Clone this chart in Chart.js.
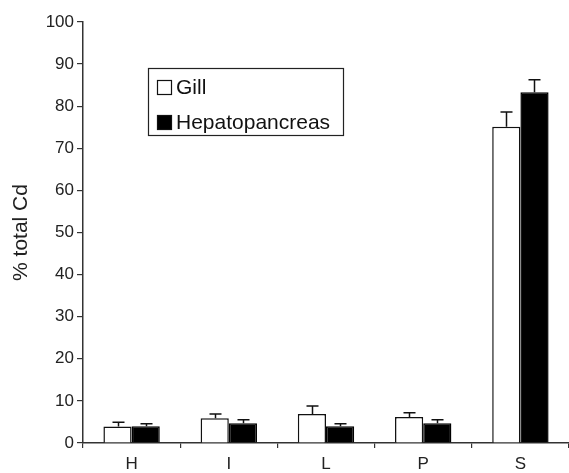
<!DOCTYPE html>
<html>
<head>
<meta charset="utf-8">
<script src="https://cdn.jsdelivr.net/npm/chart.js@4"></script>
<style>
  html, body { margin: 0; padding: 0; background: #fff; }
  #wrap { width: 569px; height: 473px; }
</style>
</head>
<body>
<div id="wrap"><canvas id="js-chart-canvas" width="569" height="473"></canvas></div>
<script>
// % total Cd per fraction, gill vs hepatopancreas

const categories = ["H", "I", "L", "P", "S"];

const gillValues = [3.9, 5.9, 6.9, 6.2, 75.1];
const gillErrors = [1.0, 1.0, 1.9, 1.0, 3.5];

const hepatoValues = [4.0, 4.7, 4.0, 4.7, 83.3];
const hepatoErrors = [0.6, 0.8, 0.6, 0.8, 3.0];

const yTicks = [0, 10, 20, 30, 40, 50, 60, 70, 80, 90, 100];

const fontFamily = "'Liberation Sans', Arial, Helvetica, sans-serif";

const canvasContext = document
  .querySelector("#js-chart-canvas")
  .getContext("2d");

const errorBars = {
  id: "errorBars",
  afterDatasetsDraw(chart) {
    const { ctx, scales: { y } } = chart;
    ctx.save();
    ctx.strokeStyle = "#111";
    ctx.lineWidth = 1.5;
    chart.data.datasets.forEach((ds, i) => {
      const meta = chart.getDatasetMeta(i);
      meta.data.forEach((bar, j) => {
        const top = y.getPixelForValue(ds.data[j] + ds.errors[j]);
        const base = y.getPixelForValue(ds.data[j]);
        const x = Math.round(bar.x) + 0.5;
        ctx.beginPath();
        ctx.moveTo(x, base);
        ctx.lineTo(x, top);
        ctx.moveTo(x - 6, top);
        ctx.lineTo(x + 6, top);
        ctx.stroke();
      });
    });
    ctx.restore();
  },
};

const boxLegend = {
  id: "boxLegend",
  afterDraw(chart) {
    const { ctx } = chart;
    const left = 148, top = 68, w = 195, h = 67;
    ctx.save();
    ctx.strokeStyle = "#222";
    ctx.lineWidth = 1.2;
    ctx.strokeRect(left + 0.5, top + 0.5, w, h);
    ctx.font = "21px " + fontFamily;
    ctx.textBaseline = "middle";
    chart.data.datasets.forEach((ds, i) => {
      const cy = top + 19 + i * 35;
      ctx.fillStyle = ds.backgroundColor;
      ctx.fillRect(157, cy - 7, 15, 15);
      ctx.strokeStyle = "#111";
      ctx.lineWidth = 1.2;
      ctx.strokeRect(157.5, cy - 6.5, 14, 14);
      ctx.fillStyle = "#111";
      ctx.fillText(ds.label, 176, cy + 1);
    });
    ctx.restore();
  },
};

const datasets = [
  {
    label: "Gill",
    data: gillValues,
    errors: gillErrors,
    backgroundColor: "#ffffff",
    borderColor: "#111",
    borderWidth: 1.5,
  },
  {
    label: "Hepatopancreas",
    data: hepatoValues,
    errors: hepatoErrors,
    backgroundColor: "#000000",
    borderColor: "#000",
    borderWidth: 1.5,
  },
];

const config = {
  type: "bar",
  data: { labels: categories, datasets: datasets },
  options: {
    responsive: false,
    animation: false,
    layout: { padding: { top: 22, right: 0, left: 0, bottom: 0 } },
    datasets: {
      bar: { categoryPercentage: 0.58, barPercentage: 1.0 },
    },
    plugins: {
      legend: { display: false },
      tooltip: { enabled: false },
    },
    scales: {
      x: {
        offset: true,
        grid: {
          offset: true,
          drawOnChartArea: false,
          drawTicks: true,
          tickLength: 5,
          color: "#333",
          lineWidth: 1.2,
        },
        border: { display: true, color: "#333", width: 1.5 },
        ticks: {
          color: "#222",
          font: { family: fontFamily, size: 17 },
          padding: 6,
        },
        afterFit(scale) { scale.height = 30; },
      },
      y: {
        min: 0,
        max: 100,
        afterBuildTicks(scale) {
          scale.ticks = yTicks.map((v) => ({ value: v }));
        },
        grid: {
          drawOnChartArea: false,
          drawTicks: true,
          tickLength: 6,
          color: "#333",
          lineWidth: 1.2,
        },
        border: { display: true, color: "#333", width: 1.5 },
        ticks: {
          color: "#222",
          font: { family: fontFamily, size: 17 },
          padding: 3,
        },
        title: {
          display: true,
          text: "% total Cd",
          color: "#222",
          font: { family: fontFamily, size: 21 },
          padding: { top: 9, bottom: 0 },
        },
        afterFit(scale) { scale.width = 83; },
      },
    },
  },
  plugins: [errorBars, boxLegend],
};

const cdChart = new Chart(canvasContext, config);
</script>
</body>
</html>
